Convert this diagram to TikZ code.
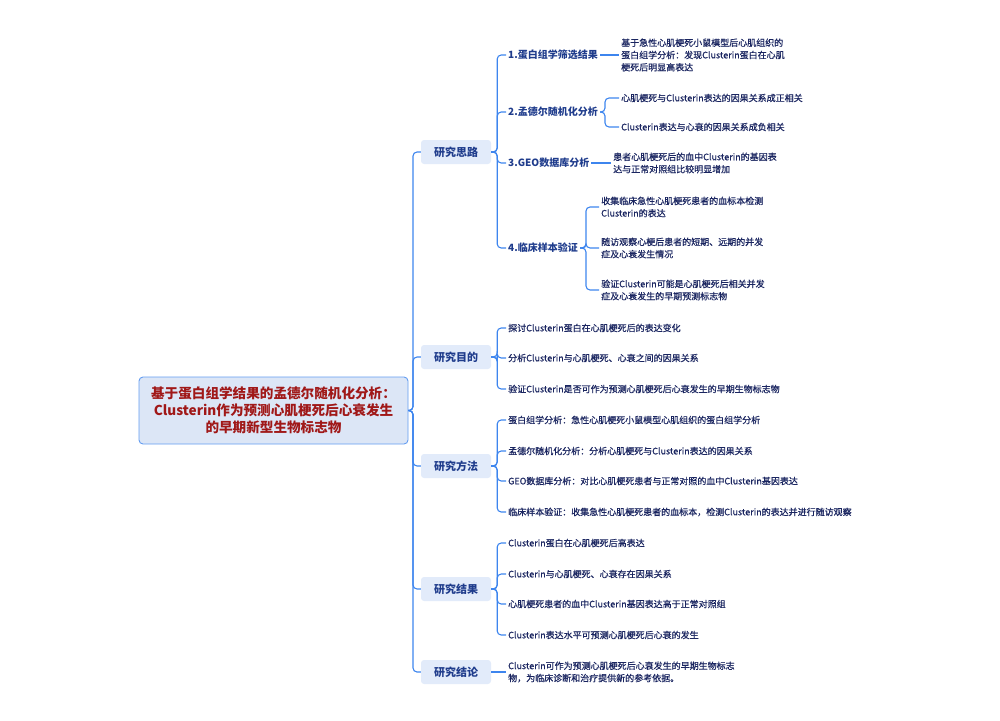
\documentclass[tikz,border=0pt]{standalone}
\usepackage{fontspec}
\setmainfont{Noto Sans CJK SC}
\definecolor{linkblue}{HTML}{3D85EE}
\definecolor{topicfill}{HTML}{E2EBFA}
\definecolor{topictext}{HTML}{1F3C8C}
\definecolor{leaftext}{HTML}{1A2560}
\definecolor{rootred}{HTML}{A01818}
\definecolor{rootfill}{HTML}{DCE6F6}
\tikzset{
  root/.style={draw=linkblue!80,line width=0.9pt,fill=rootfill,rounded corners=4pt,minimum width=269pt,minimum height=67pt,text=rootred,font=\fontsize{13.6}{17}\selectfont\bfseries,align=center},
  topic/.style={fill=topicfill,rounded corners=3pt,minimum width=70pt,minimum height=24pt,text=topictext,font=\fontsize{11}{13}\selectfont\bfseries},
  sub/.style={anchor=west,inner sep=2pt,text=topictext,font=\fontsize{10}{12}\selectfont\bfseries},
  leaf/.style={anchor=west,inner sep=2pt,text=leaftext,align=left,font=\fontsize{9}{12.3}\selectfont\addfontfeature{FakeBold=0.6}},
  link/.style={draw=linkblue,line width=1.1pt,rounded corners=4pt},
}
\begin{document}
\begin{tikzpicture}[x=1pt,y=-1pt]
\useasboundingbox (0,0) rectangle (1000,720);

\node[root](root) at (273.5,410.5){基于蛋白组学结果的孟德尔随机化分析：\\Clusterin作为预测心肌梗死后心衰发生\\的早期新型生物标志物};

\node[topic](t1) at (456,152){研究思路};
\node[topic](t2) at (456,357){研究目的};
\node[topic](t3) at (456,466){研究方法};
\node[topic](t4) at (456,589){研究结果};
\node[topic](t5) at (456,672){研究结论};

% 研究思路
\node[sub](s1) at (506,55){1.蛋白组学筛选结果};
\node[sub](s2) at (506,112){2.孟德尔随机化分析};
\node[sub](s3) at (506,163){3.GEO数据库分析};
\node[sub](s4) at (506,248){4.临床样本验证};
\node[leaf](l11) at (619,55){基于急性心肌梗死小鼠模型后心肌组织的\\蛋白组学分析：发现Clusterin蛋白在心肌\\梗死后明显高表达};
\node[leaf](l21) at (619,98){心肌梗死与Clusterin表达的因果关系成正相关};
\node[leaf](l22) at (619,127){Clusterin表达与心衰的因果关系成负相关};
\node[leaf](l31) at (611,163){患者心肌梗死后的血中Clusterin的基因表\\达与正常对照组比较明显增加};
\node[leaf](l41) at (599,207){收集临床急性心肌梗死患者的血标本检测\\Clusterin的表达};
\node[leaf](l42) at (599,248){随访观察心梗后患者的短期、远期的并发\\症及心衰发生情况};
\node[leaf](l43) at (599,290){验证Clusterin可能是心肌梗死后相关并发\\症及心衰发生的早期预测标志物};

% 研究目的
\node[leaf](p1) at (506,328){探讨Clusterin蛋白在心肌梗死后的表达变化};
\node[leaf](p2) at (506,358){分析Clusterin与心肌梗死、心衰之间的因果关系};
\node[leaf](p3) at (506,389){验证Clusterin是否可作为预测心肌梗死后心衰发生的早期生物标志物};

% 研究方法
\node[leaf](m1) at (506,420){蛋白组学分析：急性心肌梗死小鼠模型心肌组织的蛋白组学分析};
\node[leaf](m2) at (506,451){孟德尔随机化分析：分析心肌梗死与Clusterin表达的因果关系};
\node[leaf](m3) at (506,481){GEO数据库分析：对比心肌梗死患者与正常对照的血中Clusterin基因表达};
\node[leaf](m4) at (506,512){临床样本验证：收集急性心肌梗死患者的血标本，检测Clusterin的表达并进行随访观察};

% 研究结果
\node[leaf](r1) at (506,543){Clusterin蛋白在心肌梗死后高表达};
\node[leaf](r2) at (506,574){Clusterin与心肌梗死、心衰存在因果关系};
\node[leaf](r3) at (506,604){心肌梗死患者的血中Clusterin基因表达高于正常对照组};
\node[leaf](r4) at (506,635){Clusterin表达水平可预测心肌梗死后心衰的发生};

% 研究结论
\node[leaf](c1) at (506,672){Clusterin可作为预测心肌梗死后心衰发生的早期生物标志\\物，为临床诊断和治疗提供新的参考依据。};

\foreach \t in {t1,t2,t3,t4,t5}
  \draw[link](root.east)--(413,410.5)|-(\t.west);
\foreach \s in {s1,s2,s3,s4}
  \draw[link](t1.east)--++(6,0)|-(\s.west);
\draw[link](s1.east)--(l11.west);
\draw[link](s3.east)--(l31.west);
\foreach \l in {l21,l22}
  \draw[link](s2.east)--++(5,0)|-(\l.west);
\foreach \l in {l41,l42,l43}
  \draw[link](s4.east)--++(6,0)|-(\l.west);
\foreach \l in {p1,p2,p3}
  \draw[link](t2.east)--++(6,0)|-(\l.west);
\foreach \l in {m1,m2,m3,m4}
  \draw[link](t3.east)--++(6,0)|-(\l.west);
\foreach \l in {r1,r2,r3,r4}
  \draw[link](t4.east)--++(6,0)|-(\l.west);
\draw[link](t5.east)--(c1.west);
\end{tikzpicture}
\end{document}
